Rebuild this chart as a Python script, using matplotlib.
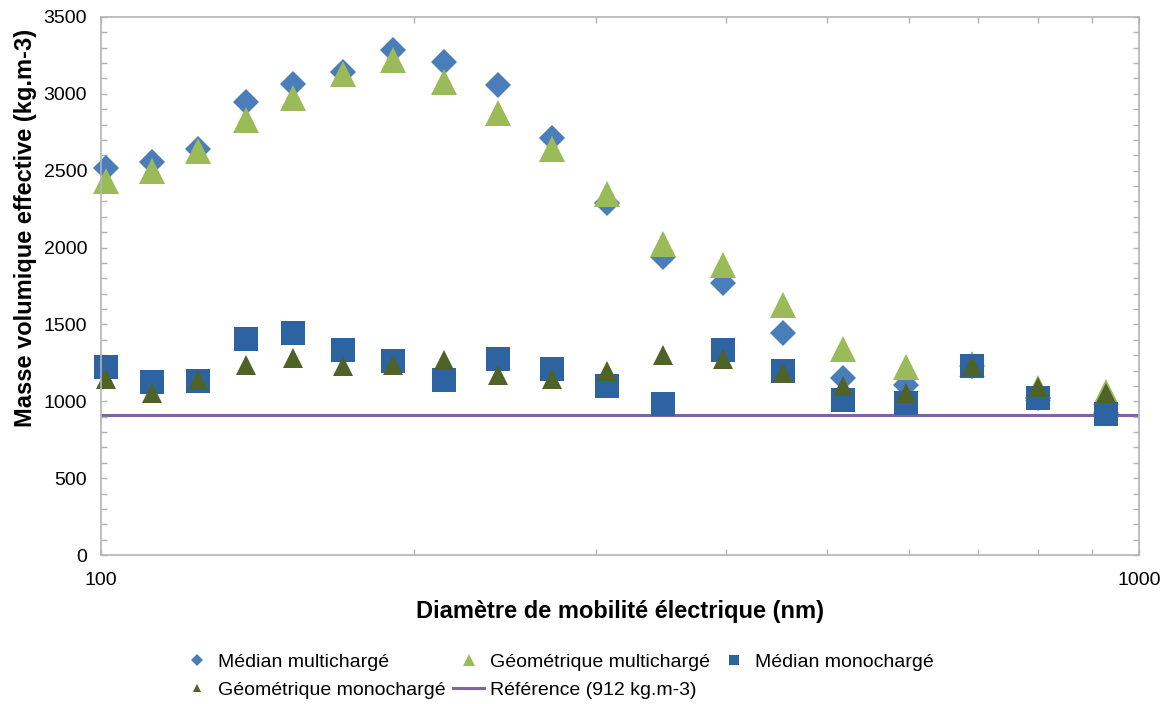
"""
Masse volumique effective vs diamètre de mobilité électrique.
"""

import matplotlib
matplotlib.use("Agg")
import matplotlib.pyplot as plt
from matplotlib.ticker import LogLocator, NullFormatter, FixedLocator, FixedFormatter, MultipleLocator

plt.rcParams["font.family"] = ["Liberation Sans", "DejaVu Sans"]

# diamètres (nm)
diametre = [101, 112, 124, 138, 153, 171, 191, 214, 241, 272,
            307, 348, 397, 454, 519, 597, 690, 799, 929]

median_multi = [2518, 2559, 2641, 2947, 3064, 3142, 3285, 3207, 3058, 2711,
                2290, 1941, 1770, 1442, 1152, 1106, 1230, 1021, 922]
geom_multi = [2436, 2498, 2628, 2832, 2970, 3128, 3222, 3074, 2873, 2643,
              2350, 2021, 1889, 1628, 1341, 1221, 1245, 1085, 1060]
median_mono = [1225, 1128, 1135, 1406, 1443, 1336, 1260, 1141, 1277, 1213,
               1098, 983, 1335, 1197, 1008, 992, 1228, 1019, 918]
geom_mono = [1142, 1055, 1137, 1239, 1280, 1228, 1238, 1269, 1173, 1146,
             1195, 1301, 1274, 1185, 1101, 1055, 1228, 1095, 1052]
reference = 912

fig = plt.figure(figsize=(11.68, 7.04), dpi=100)
ax = fig.add_axes([0.0865, 0.2116, 0.8887, 0.7643])

h1, = ax.plot(diametre, median_multi, "D", color="#4A7EBB", markersize=13.5,
              markeredgewidth=0, label="Médian multichargé", clip_on=False)
h2, = ax.plot(diametre, geom_multi, "^", color="#9BBB59", markersize=19,
              markeredgewidth=0, label="Géométrique multichargé", clip_on=False)
h3, = ax.plot(diametre, median_mono, "s", color="#2C63A0", markersize=17,
              markeredgewidth=0, label="Médian monochargé", clip_on=False)
h4, = ax.plot(diametre, geom_mono, "^", color="#4F6228", markersize=14,
              markeredgewidth=0, label="Géométrique monochargé", clip_on=False)
h5 = ax.axhline(reference, color="#8064A2", linewidth=2.2,
                label="Référence (912 kg.m-3)", zorder=1)

ax.set_xscale("log")
ax.set_xlim(100, 1000)
ax.set_ylim(0, 3500)
ax.xaxis.set_major_locator(FixedLocator([100, 1000]))
ax.xaxis.set_major_formatter(FixedFormatter(["100", "1000"]))
ax.xaxis.set_minor_locator(LogLocator(base=10, subs=range(2, 10)))
ax.xaxis.set_minor_formatter(NullFormatter())
ax.yaxis.set_major_locator(MultipleLocator(500))
ax.yaxis.set_minor_locator(MultipleLocator(100))

for side in ax.spines.values():
    side.set_color("#B4B4B4")
    side.set_linewidth(1.2)
ax.tick_params(which="both", direction="in", top=True, right=True,
               color="#B4B4B4", length=4, width=1)
ax.tick_params(axis="y", which="major", labelsize=14, pad=10)
ax.tick_params(axis="x", which="major", labelsize=14, pad=12)

ax.set_xlabel("Diamètre de mobilité électrique (nm)", fontsize=17,
              fontweight="bold", labelpad=8)
ax.set_ylabel("Masse volumique effective (kg.m-3)", fontsize=17,
              fontweight="bold")
ax.yaxis.set_label_coords(-0.062, 0.608)

handles = [h1, h4, h2, h5, h3]
fig.legend(handles, [h.get_label() for h in handles], ncol=3,
           loc="upper left", bbox_to_anchor=(0.155, 0.072), frameon=False,
           fontsize=14, markerscale=0.45, handlelength=1.6,
           borderpad=0, borderaxespad=0,
           columnspacing=0.4, handletextpad=0.3, labelspacing=0.55)

fig.savefig("out.png", dpi=100)
